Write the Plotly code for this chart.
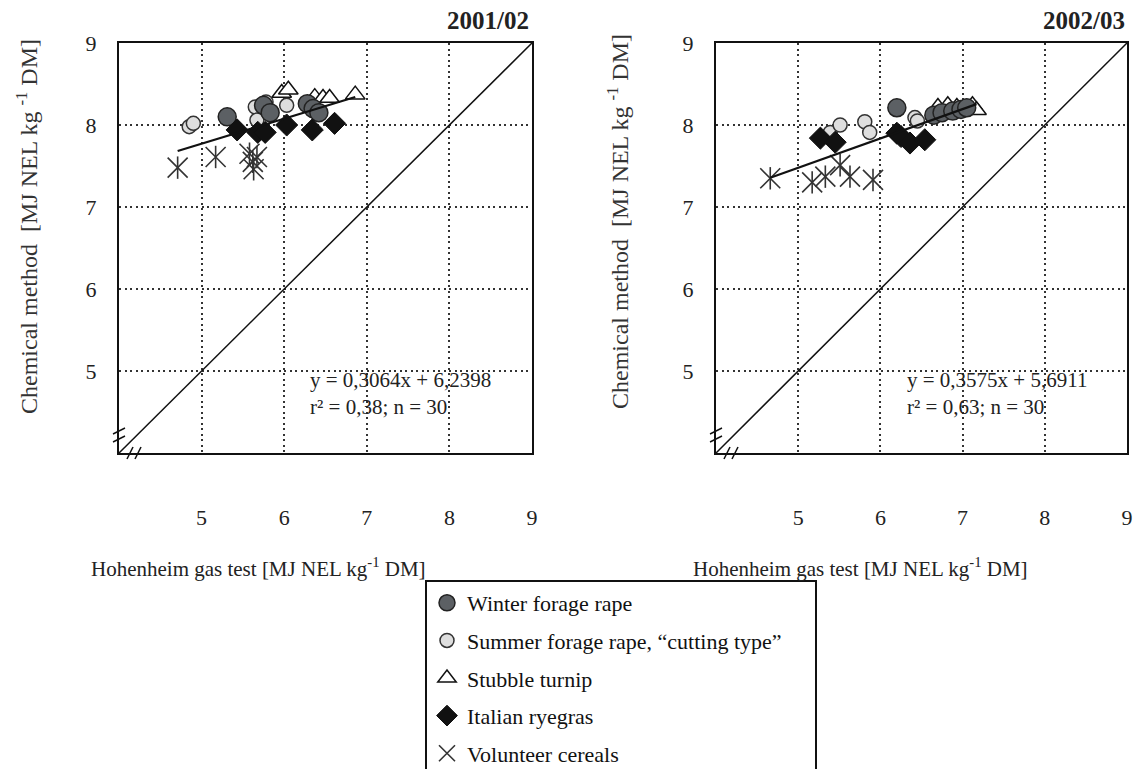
import plotly.graph_objects as go

W, H = 1135, 769
FONT = "Liberation Serif"


def PX(p):
    return p / W


def PY(p):
    return 1 - p / H


# ---------------- data ----------------
years = ["2001/02", "2002/03"]

# 2001/02
wfr_x1 = [5.31, 5.75, 5.83, 6.28, 6.35, 6.42]
wfr_y1 = [8.10, 8.24, 8.15, 8.26, 8.20, 8.15]
sfr_x1 = [4.85, 4.90, 5.65, 5.67, 5.78, 6.03]
sfr_y1 = [7.98, 8.02, 8.22, 8.06, 8.28, 8.24]
stt_x1 = [5.97, 6.05, 6.37, 6.47, 6.55, 6.86]
stt_y1 = [8.39, 8.43, 8.34, 8.33, 8.33, 8.37]
iry_x1 = [5.43, 5.68, 5.77, 6.03, 6.34, 6.61]
iry_y1 = [7.94, 7.91, 7.91, 8.00, 7.94, 8.02]
vcr_x1 = [4.71, 5.17, 5.58, 5.67, 5.62, 5.63]
vcr_y1 = [7.48, 7.61, 7.65, 7.61, 7.55, 7.46]

# 2002/03
wfr_x2 = [6.20, 6.65, 6.75, 6.88, 6.98, 7.05]
wfr_y2 = [8.21, 8.12, 8.15, 8.17, 8.19, 8.21]
sfr_x2 = [5.39, 5.51, 5.81, 5.87, 6.42, 6.45]
sfr_y2 = [7.91, 8.00, 8.04, 7.91, 8.09, 8.05]
stt_x2 = [6.70, 6.82, 6.93, 7.03, 7.12, 7.17]
stt_y2 = [8.22, 8.24, 8.22, 8.20, 8.24, 8.18]
iry_x2 = [5.27, 5.45, 6.20, 6.25, 6.36, 6.54]
iry_y2 = [7.84, 7.79, 7.90, 7.86, 7.78, 7.82]
vcr_x2 = [4.66, 5.17, 5.33, 5.51, 5.63, 5.91]
vcr_y2 = [7.35, 7.30, 7.37, 7.51, 7.37, 7.33]

# regression coefficients (slope, intercept), r2, n
reg_slope = [0.3064, 0.3575]
reg_icpt = [6.2398, 5.6911]
reg_r2 = ["0,38", "0,63"]
reg_n = [30, 30]
eq_text = ["y = 0,3064x + 6,2398", "y = 0,3575x + 5,6911"]

tick_vals = [5, 6, 7, 8, 9]
axis_range = [4, 9]

names = ["Winter forage rape", "Summer forage rape, “cutting type”",
         "Stubble turnip", "Italian ryegras", "Volunteer cereals"]

data = [
    dict(wfr=(wfr_x1, wfr_y1), sfr=(sfr_x1, sfr_y1), stt=(stt_x1, stt_y1),
         iry=(iry_x1, iry_y1), vcr=(vcr_x1, vcr_y1)),
    dict(wfr=(wfr_x2, wfr_y2), sfr=(sfr_x2, sfr_y2), stt=(stt_x2, stt_y2),
         iry=(iry_x2, iry_y2), vcr=(vcr_x2, vcr_y2)),
]

# ---------------- styles ----------------
styles = {
    "stt": dict(symbol="triangle-up", size=17, color="white",
                line=dict(color="#111", width=1.5)),
    "sfr": dict(symbol="circle", size=14, color="#dedede",
                line=dict(color="#333", width=1.5)),
    "wfr": dict(symbol="circle", size=18, color="#5c6064",
                line=dict(color="#222", width=1.5)),
    "iry": dict(symbol="diamond", size=17, color="#111",
                line=dict(color="#111", width=1)),
    "vcr": dict(symbol="x-thin", size=20, color="#333",
                line=dict(color="#333", width=1.6)),
}
legend_rank = {"wfr": 1, "sfr": 2, "stt": 3, "iry": 4, "vcr": 5}
legend_name = {"wfr": names[0], "sfr": names[1] + "\u00a0" * 5, "stt": names[2],
               "iry": names[3], "vcr": names[4]}

fig = go.Figure()

px_dom = [(119, 532), (716, 1127)]
py_dom = (43, 453)

for i, d in enumerate(data):
    xa = "x" if i == 0 else "x2"
    ya = "y" if i == 0 else "y2"
    # diagonal 1:1 line
    fig.add_trace(go.Scatter(x=axis_range, y=axis_range, mode="lines",
                             line=dict(color="#111", width=1.5),
                             xaxis=xa, yaxis=ya, showlegend=False,
                             hoverinfo="skip"))
    for key in ["stt", "sfr", "wfr", "iry", "vcr"]:
        xs, ys = d[key]
        st = styles[key]
        fig.add_trace(go.Scatter(
            x=xs, y=ys, mode="markers", name=legend_name[key],
            legendgroup=key, legendrank=legend_rank[key],
            showlegend=(i == 0),
            marker=dict(symbol=st["symbol"], size=st["size"], color=st["color"],
                        line=st["line"]),
            xaxis=xa, yaxis=ya))
        if key == "vcr":
            fig.add_trace(go.Scatter(
                x=xs, y=ys, mode="markers", legendgroup=key, showlegend=False,
                marker=dict(symbol="line-ns", size=16, color=st["color"],
                            line=st["line"]),
                xaxis=xa, yaxis=ya))
    # regression line over the range of x values
    allx = d["wfr"][0] + d["sfr"][0] + d["stt"][0] + d["iry"][0] + d["vcr"][0]
    x0, x1 = min(allx), max(allx)
    fig.add_trace(go.Scatter(
        x=[x0, x1], y=[reg_slope[i] * x0 + reg_icpt[i], reg_slope[i] * x1 + reg_icpt[i]],
        mode="lines", line=dict(color="#111", width=2.2),
        xaxis=xa, yaxis=ya, showlegend=False, hoverinfo="skip"))

axis_common = dict(range=axis_range, tickvals=tick_vals, showgrid=True,
                   gridcolor="#333", gridwidth=1.8, griddash="2px,3.5px",
                   showline=True, linecolor="#111", linewidth=2, mirror=True,
                   ticks="", zeroline=False, automargin=False,
                   tickfont=dict(family=FONT, size=22, color="#222"))

layout = dict(
    width=W, height=H, margin=dict(l=0, r=0, t=0, b=0, autoexpand=False),
    paper_bgcolor="white", plot_bgcolor="white",
    showlegend=True,
    legend=dict(x=PX(425), y=PY(580), xanchor="left", yanchor="top",
                bordercolor="#111", borderwidth=2, bgcolor="white",
                font=dict(family=FONT, size=22, color="#111"),
                tracegroupgap=6, traceorder="grouped", itemsizing="trace"),
)
for i, (l, r) in enumerate(px_dom):
    sx = "" if i == 0 else "2"
    layout["xaxis" + sx] = dict(axis_common, domain=[PX(l), PX(r)],
                                anchor="y" + sx, ticklabelstandoff=44)
    layout["yaxis" + sx] = dict(axis_common, domain=[PY(py_dom[1]), PY(py_dom[0])],
                                anchor="x" + sx, ticklabelstandoff=16)
fig.update_layout(**layout)

ann = []
title_x = [531, 1127]
ytitle_x = [27, 618]
ytitle_y = [227, 221]
xtitle_x = [258, 860]
eq_x = [308, 905]
for i in range(2):
    ann.append(dict(text="<b>%s</b>" % years[i], x=PX(title_x[i]), y=PY(20),
                    xref="paper", yref="paper", xanchor="right", yanchor="middle",
                    showarrow=False, font=dict(family=FONT, size=25, color="#222")))
    ann.append(dict(text="Chemical method  [MJ NEL kg <sup>-1</sup> DM]",
                    x=PX(ytitle_x[i]), y=PY(ytitle_y[i]), textangle=-90,
                    xref="paper", yref="paper", xanchor="center", yanchor="middle",
                    showarrow=False, font=dict(family=FONT, size=24, color="#333")))
    ann.append(dict(text="Hohenheim gas test [MJ NEL kg<sup>-1</sup> DM]",
                    x=PX(xtitle_x[i]), y=PY(567),
                    xref="paper", yref="paper", xanchor="center", yanchor="middle",
                    showarrow=False, font=dict(family=FONT, size=21, color="#222")))
    ann.append(dict(text=eq_text[i] + "<br>" + "r² = %s; n = %d" % (reg_r2[i], reg_n[i]),
                    x=PX(eq_x[i]), y=PY(393), align="left",
                    xref="paper", yref="paper", xanchor="left", yanchor="middle",
                    showarrow=False, font=dict(family=FONT, size=21, color="#222")))
fig.update_layout(annotations=ann)

# axis break marks
shapes = []
for i in range(2):
    sx = "" if i == 0 else "2"
    for off in (-4, 4):
        shapes.append(dict(type="line", xref="x" + sx + " domain", yref="y" + sx + " domain",
                           xsizemode="pixel", ysizemode="pixel", xanchor=0, yanchor=0,
                           x0=-6, x1=6, y0=18 + off - 3, y1=18 + off + 3,
                           line=dict(color="#111", width=1.5)))
        shapes.append(dict(type="line", xref="x" + sx + " domain", yref="y" + sx + " domain",
                           xsizemode="pixel", ysizemode="pixel", xanchor=0, yanchor=0,
                           x0=15 + off - 3, x1=15 + off + 3, y0=-6, y1=6,
                           line=dict(color="#111", width=1.5)))
fig.update_layout(shapes=shapes)

fig.write_html("out.html", config={"displayModeBar": False},
               post_script="document.body.style.margin='0px';"
                           "document.body.style.overflow='hidden';")
